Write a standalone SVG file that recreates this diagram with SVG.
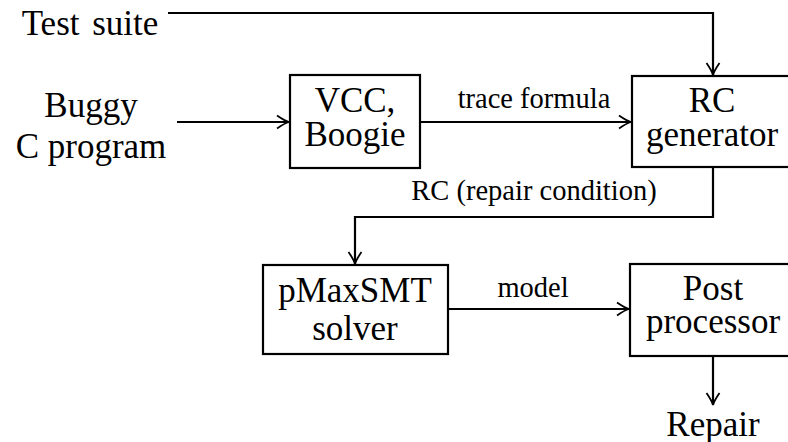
<svg xmlns="http://www.w3.org/2000/svg" width="788" height="442" viewBox="0 0 788 442">
<style>
.box{fill:#fff;stroke:#000;stroke-width:2.2}
.t{font-family:"Liberation Serif","Times New Roman",serif;font-size:35px;fill:#000;text-anchor:middle}
.l{font-family:"Liberation Serif","Times New Roman",serif;font-size:28.5px;fill:#000;text-anchor:middle}
.c{fill:none;stroke:#000;stroke-width:2.2}
</style>
<defs>
<marker id="ah" markerUnits="userSpaceOnUse" markerWidth="20" markerHeight="20" viewBox="-14 -10 16 20" refX="0" refY="0" orient="auto">
<path d="M-12,-6.5 Q-4,-1 0,0 Q-4,1 -12,6.5" fill="none" stroke="#000" stroke-width="1.8"/>
</marker>
</defs>
<rect width="788" height="442" fill="#fff"/>
<g id="connectors">
<path class="c" d="M168,13 H713 V75" marker-end="url(#ah)"/>
<path class="c" d="M177,122 H289" marker-end="url(#ah)"/>
<path class="c" d="M420,122 H631" marker-end="url(#ah)"/>
<path class="c" d="M713,167 V217 H355 V264" marker-end="url(#ah)"/>
<path class="c" d="M448,309 H629" marker-end="url(#ah)"/>
<path class="c" d="M713,356 V405" marker-end="url(#ah)"/>
<text class="l" x="534" y="108">trace formula</text>
<text class="l" x="534" y="200">RC (repair condition)</text>
<text class="l" x="533" y="297">model</text>
</g>
<g id="test-suite"><text class="t" x="90" y="35" word-spacing="4">Test suite</text></g>
<g id="buggy"><text class="t" x="91" y="117">Buggy</text><text class="t" x="91" y="158">C program</text></g>
<g id="vcc"><rect class="box" x="290" y="75" width="130" height="93"/><text class="t" x="355" y="112">VCC,</text><text class="t" x="355" y="146">Boogie</text></g>
<g id="rc"><rect class="box" x="632" y="76" width="165" height="91"/><text class="t" x="712" y="112">RC</text><text class="t" x="712" y="146">generator</text></g>
<g id="pmax"><rect class="box" x="263" y="265" width="185" height="89"/><text class="t" x="355" y="302">pMaxSMT</text><text class="t" x="355" y="340">solver</text></g>
<g id="post"><rect class="box" x="630" y="264" width="167" height="92"/><text class="t" x="713" y="300">Post</text><text class="t" x="713" y="333">processor</text></g>
<g id="repair"><text class="t" x="713" y="436">Repair</text></g>
</svg>
